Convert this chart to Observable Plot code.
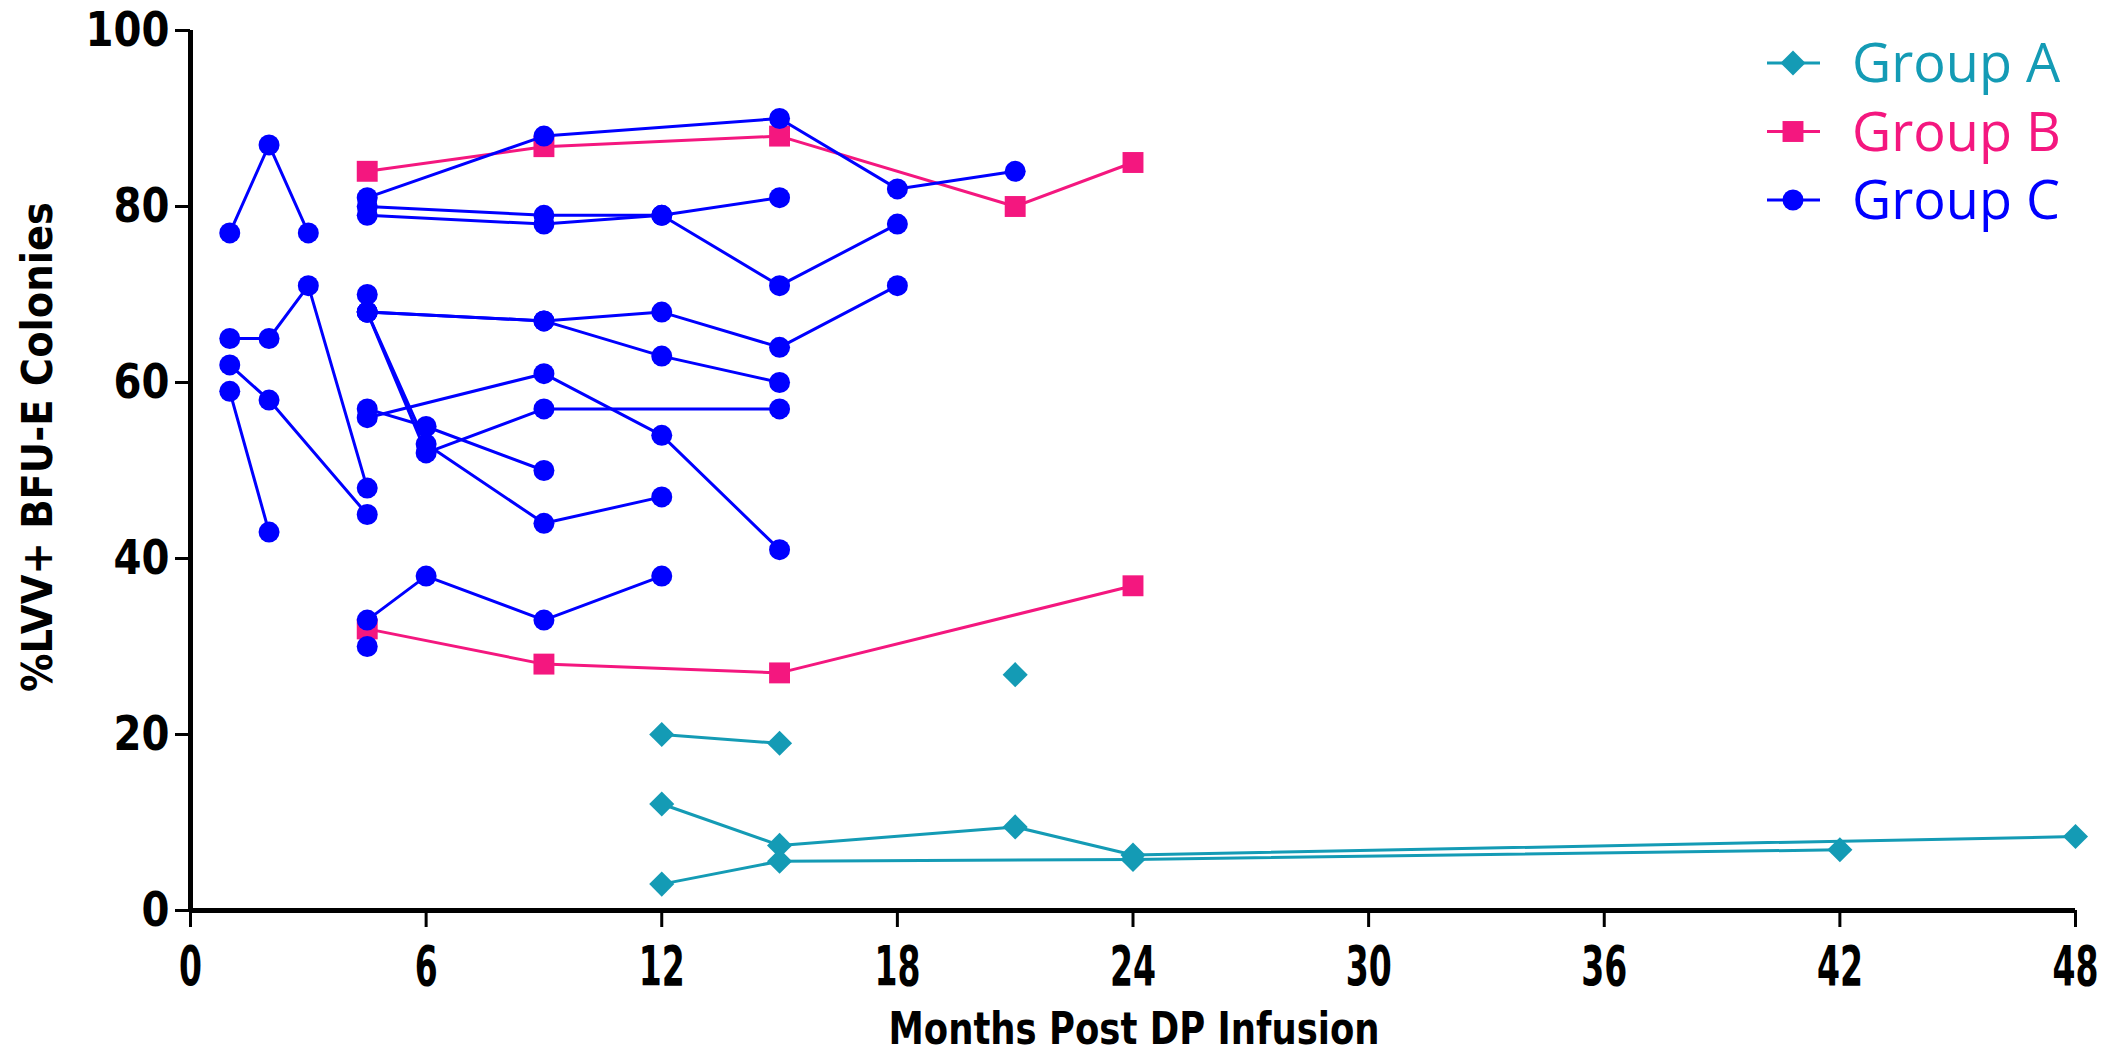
<!DOCTYPE html>
<html><head><meta charset="utf-8">
<script src="https://cdn.jsdelivr.net/npm/d3@7"></script>
<script src="https://cdn.jsdelivr.net/npm/@observablehq/plot@0.6"></script>
<style>
html,body{margin:0;padding:0;background:#fff;}
#wrap{position:relative;width:2110px;height:1055px;overflow:hidden;background:#fff;}
#overlay{position:absolute;left:0;top:0;pointer-events:none;}
</style></head><body><div id="wrap"></div>
<script>
// ---- data ----
const groups = ["Group A", "Group B", "Group C"];
const xTicks = [0, 6, 12, 18, 24, 30, 36, 42, 48];
const yTicks = [0, 20, 40, 60, 80, 100];
const xLabel = "Months Post DP Infusion";
const yLabel = "%LVV+ BFU-E Colonies";

// one entry per patient series: group index, months, % values
const seriesGroup = [
  0, 0, 0, 0,
  1, 1,
  2, 2, 2, 2, 2, 2, 2, 2, 2, 2, 2, 2, 2, 2, 2, 2
];
const seriesMonths = [
  [12, 15], [12, 15, 21, 24, 48], [12, 15, 24, 42], [21],
  [4.5, 9, 15, 21, 24], [4.5, 9, 15, 24],
  [1, 2, 3], [1, 2, 3, 4.5], [1, 2, 4.5], [1, 2],
  [4.5, 9, 15, 18, 21], [4.5, 9, 12, 15], [4.5, 9, 12, 15, 18], [4.5],
  [4.5, 9, 12, 15, 18], [4.5, 9, 12, 15], [4.5, 6, 9, 15], [4.5, 6, 9, 12],
  [4.5, 6, 9], [4.5, 9, 12, 15], [4.5, 6, 9, 12], [4.5]
];
const seriesValues = [
  [20, 19], [12.1, 7.4, 9.5, 6.3, 8.4], [3, 5.6, 5.8, 6.9], [26.8],
  [84, 86.8, 88, 80, 85], [32, 28, 27, 36.9],
  [77, 87, 77], [65, 65, 71, 48], [62, 58, 45], [59, 43],
  [81, 88, 90, 82, 84], [80, 79, 79, 81], [79, 78, 79, 71, 78], [70],
  [68, 67, 68, 64, 71], [68, 67, 63, 60], [68, 52, 57, 57], [68, 53, 44, 47],
  [57, 55, 50], [56, 61, 54, 41], [33, 38, 33, 38], [30]
];

// ---- styles ----
const groupColors = ["#149BB5", "#F4177F", "#0000FF"];
const groupSymbols = ["diamond2", "square", "circle"];
const markerR = [11.3, 11.8, 10.5];

const rows = [];
seriesGroup.forEach((g, i) => seriesMonths[i].forEach((m, j) =>
  rows.push({series: i, group: groups[g], month: m, value: seriesValues[i][j]})));

const dataMarks = [];
groups.forEach((g, gi) => {
  const d = rows.filter(r => r.group === g);
  dataMarks.push(Plot.line(d, {x: "month", y: "value", z: "series", stroke: groupColors[gi], strokeWidth: 3}));
  dataMarks.push(Plot.dot(d, {x: "month", y: "value", symbol: groupSymbols[gi], fill: groupColors[gi], stroke: "none", r: markerR[gi]}));
});

const W = 2110, H = 1055;
const plot = Plot.plot({
  width: W, height: H,
  marginLeft: 190, marginRight: 35, marginTop: 30, marginBottom: 145,
  x: {domain: [0, 48]},
  y: {domain: [0, 100]},
  style: {fontFamily: "DejaVu Sans", fontWeight: "bold", background: "white", color: "black", overflow: "visible"},
  marks: [
    Plot.axisY({ticks: yTicks, tickSize: 15, tickPadding: 6, strokeWidth: 3, fontSize: 48, fontWeight: "bold", label: null}),
    Plot.axisX({ticks: xTicks, tickSize: 17, tickPadding: 18, strokeWidth: 3, fontSize: 58, fontWeight: "bold", label: null}),
    Plot.ruleX([0], {stroke: "black", strokeWidth: 5}),
    Plot.ruleY([0], {stroke: "black", strokeWidth: 5}),
    ...dataMarks
  ]
});
const wrap = document.getElementById("wrap");
wrap.appendChild(plot);

// x tick labels: tall, condensed (smaller font stretched vertically, centre kept)
d3.select(plot).selectAll('g[aria-label="x-axis tick label"] text').each(function() {
  const t = this.textContent;
  const r0 = this.getBoundingClientRect();
  const cy0 = r0.top + r0.height / 2;
  const orig = this.getAttribute("transform") || "";
  this.setAttribute("font-size", 42);
  this.setAttribute("textLength", 23 * t.length);
  this.setAttribute("lengthAdjust", "spacingAndGlyphs");
  this.setAttribute("transform", orig + " scale(1,1.31)");
  const r1 = this.getBoundingClientRect();
  const d = cy0 - (r1.top + r1.height / 2);
  this.setAttribute("transform", `translate(0,${d}) ` + orig + " scale(1,1.31)");
});
d3.select(plot).selectAll('g[aria-label="y-axis tick label"] text').each(function() {
  const t = this.textContent;
  this.setAttribute("font-size", 48);
  this.setAttribute("textLength", 28 * t.length);
  this.setAttribute("lengthAdjust", "spacingAndGlyphs");
});

// ---- overlay: axis titles and legend ----
const ov = d3.select(wrap).append("svg").attr("id", "overlay").attr("width", W).attr("height", H);
ov.append("text").text(yLabel)
  .attr("transform", "translate(37,447) rotate(-90)")
  .attr("text-anchor", "middle").attr("dominant-baseline", "central")
  .attr("font-family", "DejaVu Sans").attr("font-weight", "bold").attr("font-size", 42)
  .attr("textLength", 490).attr("lengthAdjust", "spacingAndGlyphs");
ov.append("text").text(xLabel)
  .attr("x", 1134).attr("y", 1044)
  .attr("text-anchor", "middle")
  .attr("font-family", "DejaVu Sans").attr("font-weight", "bold").attr("font-size", 44)
  .attr("textLength", 491).attr("lengthAdjust", "spacingAndGlyphs");

const symMap = {circle: d3.symbolCircle, square: d3.symbolSquare, diamond2: d3.symbolDiamond2};
groups.forEach((g, i) => {
  const cy = 63 + i * 68.5;
  const lg = ov.append("g");
  lg.append("line").attr("x1", 1767).attr("x2", 1820).attr("y1", cy).attr("y2", cy)
    .attr("stroke", groupColors[i]).attr("stroke-width", 3);
  lg.append("path")
    .attr("d", d3.symbol(symMap[groupSymbols[i]], Math.PI * markerR[i] * markerR[i])())
    .attr("transform", `translate(1793,${cy})`).attr("fill", groupColors[i]);
  lg.append("text").text(g).attr("x", 1852).attr("y", cy).attr("dy", "0.36em")
    .attr("fill", groupColors[i]).attr("font-family", "Open Sans").attr("font-size", 54);
});
</script>
</body></html>
